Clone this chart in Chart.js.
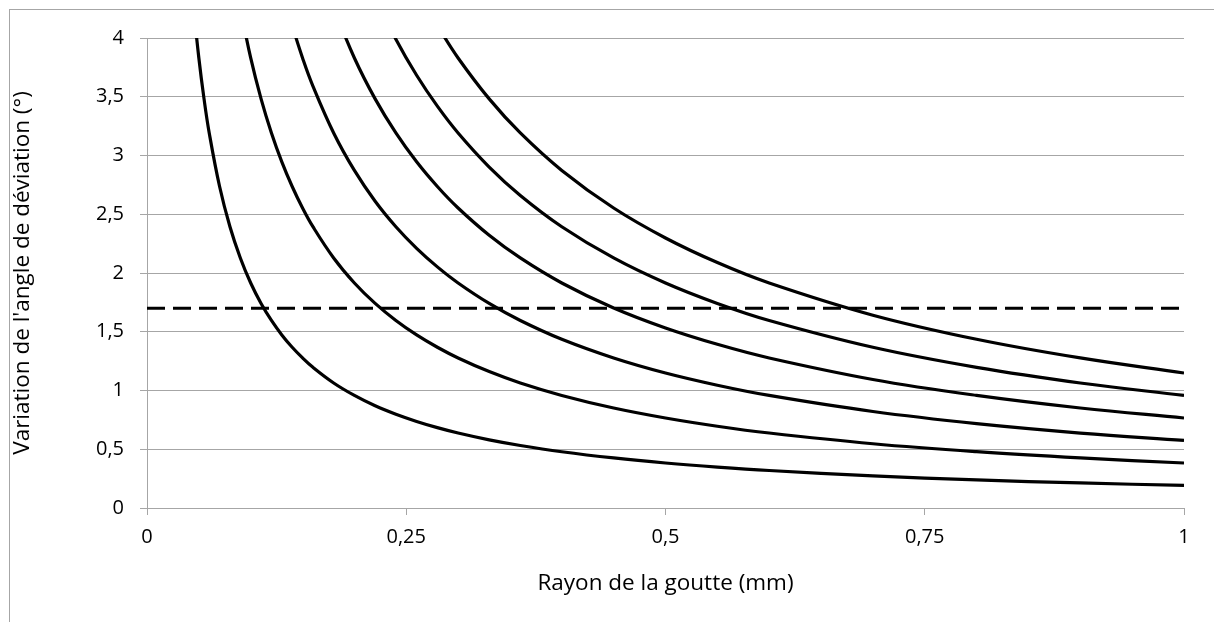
<!DOCTYPE html>
<html>
<head>
<meta charset="utf-8">
<script src="https://cdn.jsdelivr.net/npm/chart.js@4.4.1/dist/chart.umd.min.js"></script>
<style>
  html, body { margin: 0; padding: 0; background: #fff; overflow: hidden; }
  #frame { position: absolute; left: 9px; top: 9px; width: 1220px; height: 640px; border: 1px solid #a6a6a6; }
  #wrap { position: absolute; left: 0; top: 0; width: 1214px; height: 622px; }
</style>
</head>
<body>
<div id="frame"></div>
<div id="wrap"><canvas id="chart"></canvas></div>
<script>
// rayon de la goutte (mm) -- abscisses communes
const rayons = [0.04, 0.045, 0.05, 0.055, 0.06, 0.07, 0.08, 0.09, 0.1, 0.11, 0.12, 0.13, 0.14, 0.15, 0.16, 0.18, 0.2, 0.22, 0.24, 0.26, 0.28, 0.3, 0.33, 0.36, 0.4, 0.45, 0.5, 0.55, 0.6, 0.7, 0.8, 0.9, 1];

// variation de l'angle (°) (null = hors cadre)
const courbe1 = [4.788, 4.256, 3.830, 3.482, 3.192, 2.736, 2.394, 2.128, 1.915, 1.741, 1.596, 1.473, 1.368, 1.277, 1.197, 1.064, 0.958, 0.870, 0.798, 0.737, 0.684, 0.638, 0.580, 0.532, 0.479, 0.426, 0.383, 0.348, 0.319, 0.274, 0.239, 0.213, 0.192];
const courbe2 = [null, null, null, null, null, null, null, 4.256, 3.830, 3.482, 3.192, 2.946, 2.736, 2.553, 2.394, 2.128, 1.915, 1.741, 1.596, 1.473, 1.368, 1.277, 1.161, 1.064, 0.958, 0.851, 0.766, 0.696, 0.638, 0.547, 0.479, 0.426, 0.383];
const courbe3 = [null, null, null, null, null, null, null, null, null, null, null, null, 4.104, 3.830, 3.591, 3.192, 2.873, 2.611, 2.394, 2.210, 2.052, 1.915, 1.741, 1.596, 1.436, 1.277, 1.149, 1.045, 0.958, 0.821, 0.718, 0.638, 0.575];
const courbe4 = [null, null, null, null, null, null, null, null, null, null, null, null, null, null, null, 4.256, 3.830, 3.482, 3.192, 2.946, 2.736, 2.553, 2.321, 2.128, 1.915, 1.702, 1.532, 1.393, 1.277, 1.094, 0.958, 0.851, 0.766];
const courbe5 = [null, null, null, null, null, null, null, null, null, null, null, null, null, null, null, null, null, 4.352, 3.990, 3.683, 3.420, 3.192, 2.902, 2.660, 2.394, 2.128, 1.915, 1.741, 1.596, 1.368, 1.197, 1.064, 0.958];
const courbe6 = [null, null, null, null, null, null, null, null, null, null, null, null, null, null, null, null, null, null, null, null, 4.104, 3.830, 3.482, 3.192, 2.873, 2.553, 2.298, 2.089, 1.915, 1.641, 1.436, 1.277, 1.149];

const seuilX = [0, 1];
const seuilY = [1.7, 1.7];

const xTicks = [0, 0.25, 0.5, 0.75, 1];
const yTicks = [0, 0.5, 1, 1.5, 2, 2.5, 3, 3.5, 4];

const fmt = v => String(v).replace('.', ',');
const pts = (xs, ys) => xs.map((x, i) => ({ x: x, y: ys[i] }));

const courbeStyle = {
  borderColor: '#000',
  borderWidth: 3.2,
  pointRadius: 0,
  fill: false,
  tension: 0.4,
};

const grey = '#a6a6a6';
const fontFamily = '"Open Sans", sans-serif';

new Chart(document.getElementById('chart'), {
  type: 'line',
  data: {
    datasets: [
      { data: pts(rayons, courbe1), ...courbeStyle },
      { data: pts(rayons, courbe2), ...courbeStyle },
      { data: pts(rayons, courbe3), ...courbeStyle },
      { data: pts(rayons, courbe4), ...courbeStyle },
      { data: pts(rayons, courbe5), ...courbeStyle },
      { data: pts(rayons, courbe6), ...courbeStyle },
      {
        data: pts(seuilX, seuilY),
        borderColor: '#000',
        borderWidth: 3.2,
        borderDash: [18, 8],
        pointRadius: 0,
        fill: false,
      },
    ],
  },
  options: {
    responsive: true,
    maintainAspectRatio: false,
    animation: false,
    spanGaps: false,
    layout: { padding: { left: 9, right: 30, top: 38, bottom: 0 } },
    plugins: { legend: { display: false }, tooltip: { enabled: false } },
    scales: {
      x: {
        type: 'linear',
        min: 0,
        max: 1,
        afterBuildTicks: s => { s.ticks = xTicks.map(v => ({ value: v })); },
        afterFit: s => { s.height = 114; },
        ticks: {
          color: '#000',
          font: { family: fontFamily, size: 20 },
          padding: 10,
          maxRotation: 0,
          callback: v => fmt(v),
        },
        grid: { drawOnChartArea: false, drawTicks: true, tickLength: 7, color: grey, lineWidth: 1 },
        border: { display: true, color: grey },
        title: {
          display: true,
          text: 'Rayon de la goutte (mm)',
          color: '#000',
          font: { family: fontFamily, size: 22.5 },
          padding: { top: 0, bottom: 25 },
        },
      },
      y: {
        min: 0,
        max: 4,
        afterBuildTicks: s => { s.ticks = yTicks.map(v => ({ value: v })); },
        afterFit: s => { s.width = 138; },
        ticks: {
          color: '#000',
          font: { family: fontFamily, size: 20 },
          padding: 16,
          callback: v => fmt(v),
        },
        grid: { drawOnChartArea: true, drawTicks: true, tickLength: 7, color: grey, lineWidth: 1 },
        border: { display: true, color: grey },
        title: {
          display: true,
          text: "Variation de l'angle de déviation (°)",
          color: '#000',
          font: { family: fontFamily, size: 22.5 },
          padding: { top: 0, bottom: 0 },
        },
      },
    },
  },
});
</script>
</body>
</html>
